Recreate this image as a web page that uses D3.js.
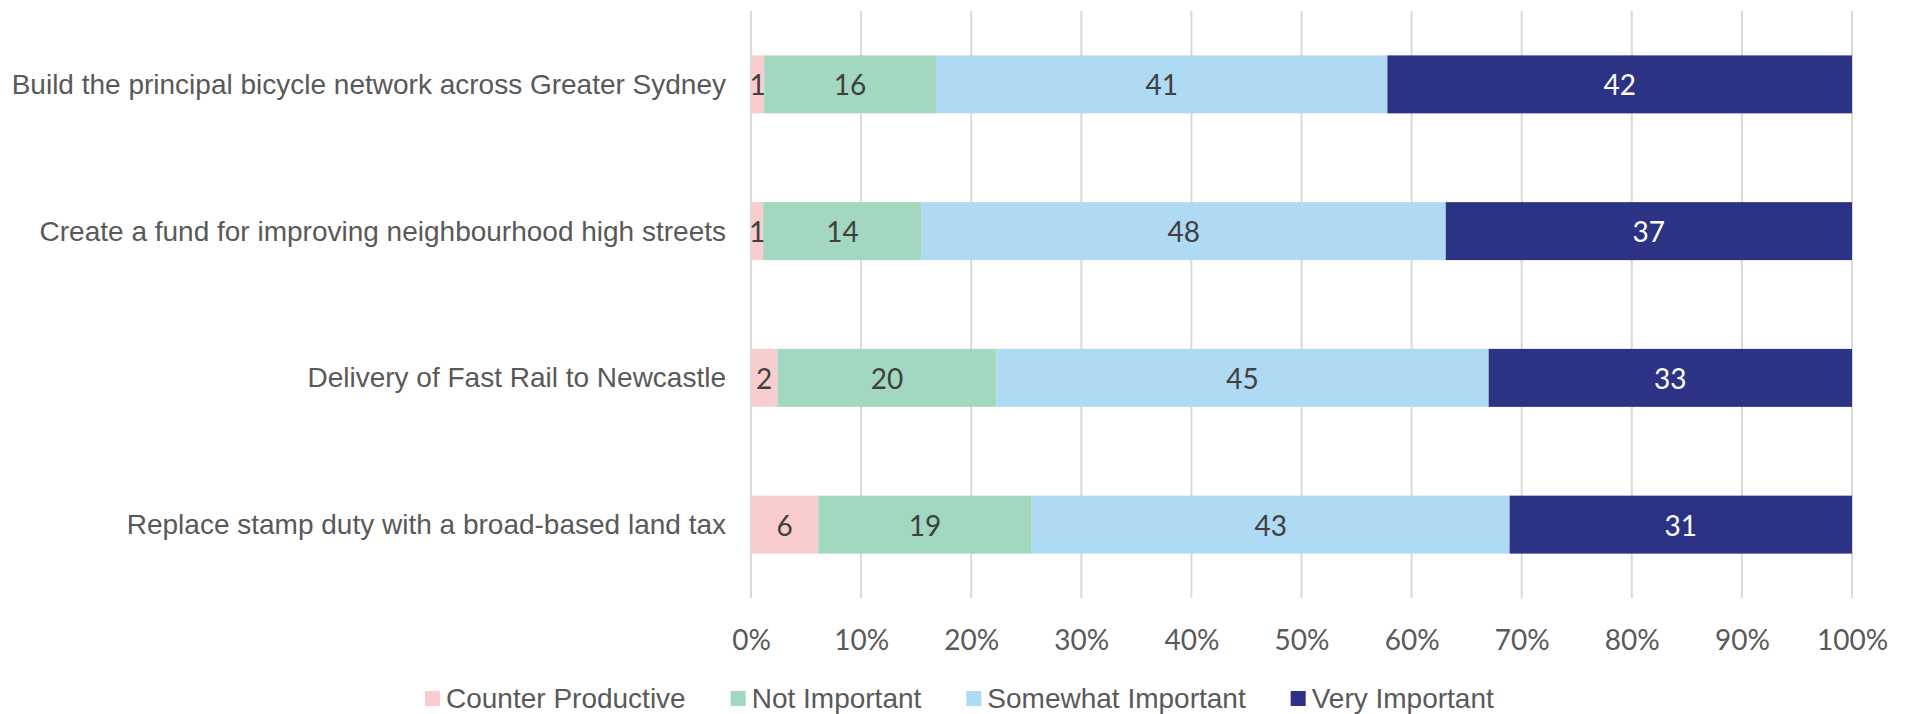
<!DOCTYPE html>
<html>
<head>
<meta charset="utf-8">
<script src="https://cdn.jsdelivr.net/npm/d3@7"></script>
<style>
  html, body { margin: 0; padding: 0; background: #fff; }
  svg { display: block; }
</style>
</head>
<body>
<svg id="chart" width="1906" height="714"></svg>
<script>
const categories = [
  "Build the principal bicycle network across Greater Sydney",
  "Create a fund for improving neighbourhood high streets",
  "Delivery of Fast Rail to Newcastle",
  "Replace stamp duty with a broad-based land tax"
];
const seriesNames = ["Counter Productive", "Not Important", "Somewhat Important", "Very Important"];
const counterProductive = [1.2, 1.1, 2.4, 6.1];
const notImportant      = [15.6, 14.4, 19.9, 19.4];
const somewhatImportant = [41.0, 47.6, 44.7, 43.4];
const veryImportant     = [42.2, 36.9, 33.0, 31.1];
const labelCounter  = [1, 1, 2, 6];
const labelNot      = [16, 14, 20, 19];
const labelSomewhat = [41, 48, 45, 43];
const labelVery     = [42, 37, 33, 31];
const tickValues = [0, 10, 20, 30, 40, 50, 60, 70, 80, 90, 100];
const tickLabels = ["0%", "10%", "20%", "30%", "40%", "50%", "60%", "70%", "80%", "90%", "100%"];
const colors = ["#F9CDCD", "#A3D8C0", "#AEDAF4", "#2C3385"];

const seriesValues = [counterProductive, notImportant, somewhatImportant, veryImportant];
const seriesLabels = [labelCounter, labelNot, labelSomewhat, labelVery];

const svg = d3.select("#chart");
const x = d3.scaleLinear().domain([0, 100]).range([751, 1852]);
const y = d3.scaleBand().domain(categories).range([11, 598]).paddingInner(0.605).paddingOuter(0.3025);

// gridlines
svg.append("g").selectAll("line").data(tickValues).join("line")
  .attr("x1", d => x(d)).attr("x2", d => x(d))
  .attr("y1", 11).attr("y2", 598)
  .attr("stroke", "#D9D9D9").attr("stroke-width", 2);

// tick labels via axis
const axis = d3.axisBottom(x).tickValues(tickValues).tickFormat((d, i) => tickLabels[i]).tickSize(0).tickPadding(0);
const ax = svg.append("g").attr("transform", "translate(0,630)").call(axis);
ax.select(".domain").remove();
ax.selectAll("text").attr("font-family", "Lato, 'Open Sans', sans-serif").attr("font-size", 28)
  .attr("fill", "#595959").attr("dy", "0.72em").attr("y", 0);

// stacked data
const rows = categories.map((c, i) => {
  const o = { cat: c };
  seriesNames.forEach((s, k) => { o[s] = seriesValues[k][i]; });
  return o;
});
const stacked = d3.stack().keys(seriesNames)(rows);

const g = svg.append("g");
stacked.forEach((layer, k) => {
  g.append("g").selectAll("rect").data(layer).join("rect")
    .attr("x", d => x(d[0]))
    .attr("width", d => x(d[1]) - x(d[0]))
    .attr("y", d => y(d.data.cat))
    .attr("height", y.bandwidth())
    .attr("fill", colors[k]);
});
stacked.forEach((layer, k) => {
  g.append("g").selectAll("text").data(layer).join("text")
    .attr("x", d => (x(d[0]) + x(d[1])) / 2)
    .attr("y", d => y(d.data.cat) + y.bandwidth() / 2)
    .attr("text-anchor", "middle")
    .attr("dominant-baseline", "central")
    .attr("font-family", "Lato, 'Open Sans', sans-serif")
    .attr("font-size", 28)
    .attr("fill", k === 3 ? "#FFFFFF" : "#404040")
    .text((d, i) => seriesLabels[k][i]);
});

// category labels
svg.append("g").selectAll("text").data(categories).join("text")
  .attr("x", 726)
  .attr("y", d => y(d) + y.bandwidth() / 2)
  .attr("text-anchor", "end")
  .attr("dominant-baseline", "central")
  .attr("font-family", "'Liberation Sans', Arial, sans-serif")
  .attr("font-size", 28)
  .attr("fill", "#595959")
  .text(d => d);

// legend
const legend = svg.append("g");
let lx = 425;
seriesNames.forEach((s, k) => {
  legend.append("rect").attr("x", lx).attr("y", 691).attr("width", 15).attr("height", 15).attr("fill", colors[k]);
  const t = legend.append("text").attr("x", lx + 21).attr("y", 698)
    .attr("dominant-baseline", "central")
    .attr("font-family", "'Liberation Sans', Arial, sans-serif")
    .attr("font-size", 28).attr("fill", "#595959").text(s);
  lx += 21 + t.node().getComputedTextLength() + 45;
});
</script>
</body>
</html>
